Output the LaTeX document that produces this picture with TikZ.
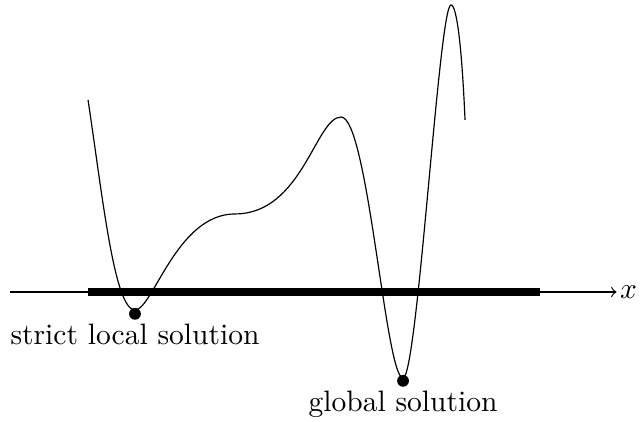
\documentclass[tikz,border=0pt]{standalone}
\usepackage{tikz}
\usetikzlibrary{positioning,arrows.meta}

\begin{document}
\begin{tikzpicture}[dot/.style={circle, fill, inner sep=0pt, minimum size=4pt}]
\useasboundingbox (0,-1.536) rectangle (7.631,3.476);
\coordinate (xstart) at (0.12,0);
\node[inner sep=1pt, anchor=west] (xlabel) at (7.34,0) {$x$};
\coordinate (barL) at (1.05,0);
\coordinate (barR) at (6.43,0);
\draw[-to] (xstart) -- (xlabel);
\draw[line width=2.4pt] (barL) -- (barR);
% the function
\draw (1.048,2.286) .. controls (1.220,1.150) and (1.360,-0.214) .. (1.607,-0.214)
  .. controls (1.820,-0.214) and (2.100,0.929) .. (2.798,0.929)
  .. controls (3.600,0.929) and (3.760,2.083) .. (4.060,2.083)
  .. controls (4.380,2.083) and (4.590,-1.024) .. (4.798,-1.024)
  .. controls (4.970,-1.024) and (5.226,3.417) .. (5.369,3.417)
  .. controls (5.440,3.417) and (5.500,2.881) .. (5.536,2.048);
\node[dot] (localmin) at (1.607,-0.26) {};
\node[dot] (globalmin) at (4.798,-1.058) {};
\node[below] (locallabel) at (localmin.center) {strict local solution};
\node[below] (globallabel) at (globalmin.center) {global solution};
\end{tikzpicture}
\end{document}
